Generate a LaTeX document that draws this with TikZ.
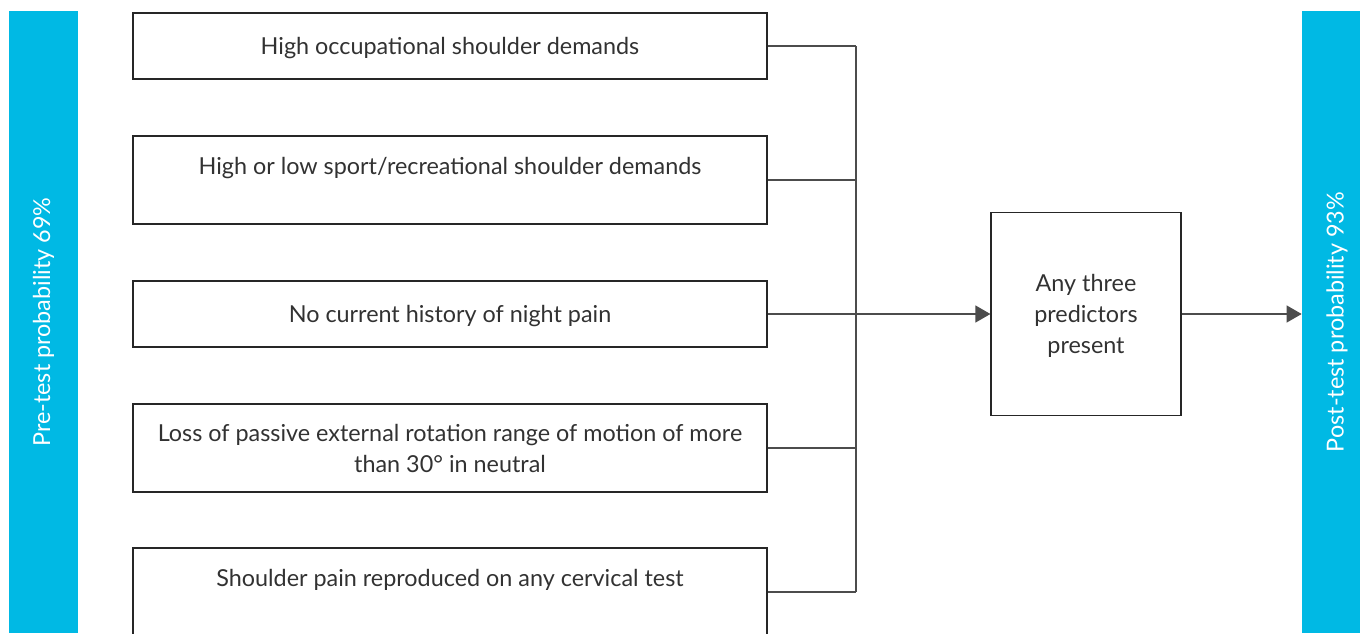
\documentclass[tikz,border=0pt]{standalone}
\usepackage{fontspec}
\setmainfont{Lato}
\usetikzlibrary{positioning, arrows.meta}

\definecolor{barblue}{RGB}{0,185,228}
\definecolor{txt}{RGB}{50,50,50}

\begin{document}
\begin{tikzpicture}[x=0.02cm, y=-0.02cm,
    every node/.style={font=\fontsize{13.3}{17.6}\selectfont, text=txt},
    predictor/.style={draw=black!85, line width=0.7pt, minimum width=12.68cm, align=center, inner sep=0pt},
    short/.style={predictor, minimum height=1.32cm, text depth=0cm},
    tall/.style={predictor, minimum height=1.76cm, text depth=0.58cm},
    probbar/.style={fill=barblue, rotate=90, text=white, inner sep=0pt, minimum height=1.4cm},
    link/.style={draw=black!70, line width=0.7pt},
    arrow/.style={link, -{Triangle[length=3mm, width=3.4mm]}}]

    \useasboundingbox (0,0) rectangle (1360,633);

    % Barras de probabilidad
    \node[probbar, minimum width=12.44cm] (pre) at (43.5,322) {Pre-test probability 69\%};
    \node[probbar, minimum width=12.44cm] (post) at (1337,322) {Post-test probability 93\%};

    % Predictores
    \node[short] (occ) at (450,46) {High occupational shoulder demands};
    \node[tall] (sport) at (450,180) {High or low sport/recreational shoulder demands};
    \node[short] (night) at (450,314) {No current history of night pain};
    \node[tall, text depth=0cm] (rom) at (450,448) {Loss of passive external rotation range of motion of more\\than 30° in neutral};
    \node[tall] (cerv) at (450,592) {Shoulder pain reproduced on any cervical test};

    % Regla de decision
    \node[draw=black!85, line width=0.7pt, minimum width=3.8cm, minimum height=4.06cm, align=center, text depth=0cm] (three) at (1086,314) {Any three\\predictors\\present};

    % Conectores
    \coordinate (bus) at (856,0);
    \foreach \p in {occ, sport, rom, cerv}
        \draw[link] (\p.east) -- (\p.east -| bus);
    \draw[link] (occ.east -| bus) -- (cerv.east -| bus);
    \draw[arrow] (night.east) -- (three.west);
    \draw[arrow] (three.east) -- (three.east -| post.north);

\end{tikzpicture}
\end{document}
